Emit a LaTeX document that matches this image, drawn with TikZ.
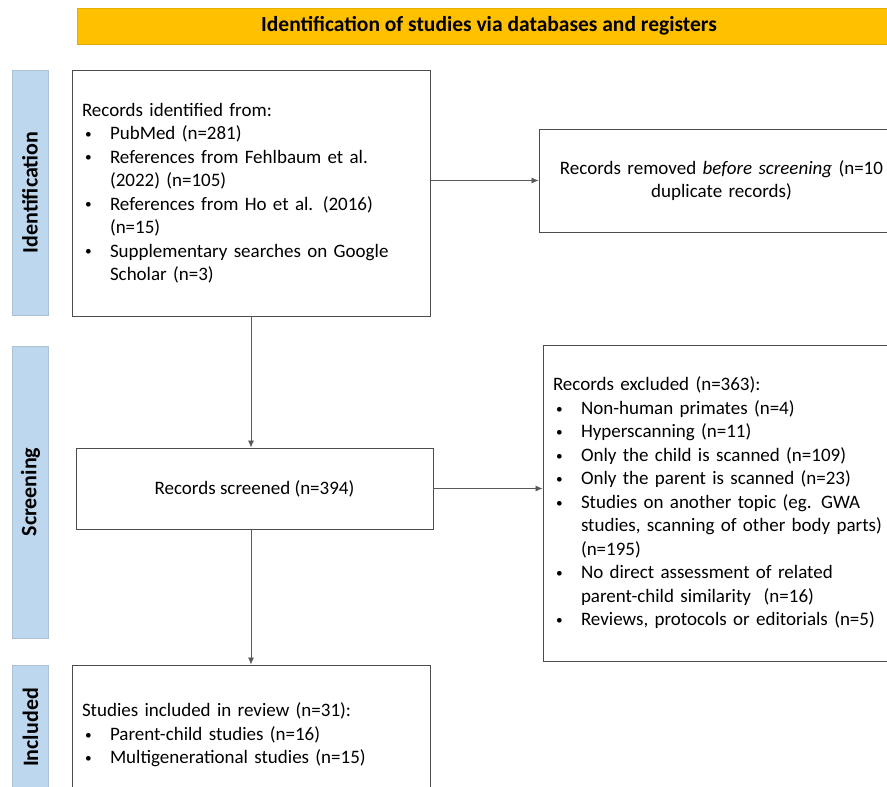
\documentclass[tikz,border=0pt]{standalone}
\usepackage{fontspec}
\setmainfont{Carlito}
\usepackage{graphicx}
\usepackage{tikz}
\usetikzlibrary{arrows.meta}
\definecolor{bannerorange}{HTML}{FFC000}
\definecolor{phaseblue}{HTML}{BDD7EE}
\newcommand{\bitem}{\makebox[28pt][l]{\hspace{3pt}\raisebox{0.12ex}{\scalebox{0.7}{\textbullet}}}}
\newcommand{\bcont}{\hspace*{28pt}}

\begin{document}
\begin{tikzpicture}[x=1pt, y=-1pt, box/.style={rectangle, draw=black!70, line width=0.9pt, fill=white, inner xsep=10pt, inner ysep=0pt, font=\fontsize{19}{23.5}\selectfont}, phase/.style={rectangle, fill=phaseblue, draw=phaseblue!90!black, line width=0.5pt, minimum height=36pt, inner sep=0pt, rotate=90, font=\fontsize{22}{24}\selectfont\bfseries}, banner/.style={rectangle, fill=bannerorange, draw=bannerorange!90!black, line width=0.5pt, minimum width=824pt, minimum height=36pt, font=\fontsize{21.5}{24}\selectfont\bfseries}, arrow/.style={draw=black!65, line width=0.8pt, -{Latex[length=7pt,width=6pt]}}]

    \useasboundingbox (0,0) rectangle (887,787);
    \clip (0,0) rectangle (887,787);

    % Header
    \node[banner] (title) at (489,26) {Identification of studies via databases and registers};

    % Phases
    \node[phase, minimum width=245pt] (phaseid)  at (30,192.5) {Identification};
    \node[phase, minimum width=292pt] (phasescr) at (30.5,492) {Screening};
    \node[phase, minimum width=125pt] (phaseinc) at (30.5,727.5) {Included};

    % Boxes
    \node[box, minimum width=358pt, minimum height=246pt, text width=338pt, align=left] (identified) at (251,193)
        {Records identified from:\\
         \bitem PubMed (n=281)\\
         \bitem References from Fehlbaum et al.\\
         \bcont (2022) (n=105)\\
         \bitem References from Ho et al. (2016)\\
         \bcont (n=15)\\
         \bitem Supplementary searches on Google\\
         \bcont Scholar (n=3)};
    \node[box, minimum width=365pt, minimum height=103pt, text width=345pt, align=center] (removed) at (721.5,180.5)
        {Records removed \textit{before screening} (n=10\\ duplicate records)};
    \node[box, minimum width=357pt, minimum height=81pt] (screened) at (254.5,488.5)
        {Records screened (n=394)};
    \node[box, minimum width=362pt, minimum height=316pt, text width=342pt, align=left] (excluded) at (724,503)
        {Records excluded (n=363):\\
         \bitem Non-human primates (n=4)\\
         \bitem Hyperscanning (n=11)\\
         \bitem Only the child is scanned (n=109)\\
         \bitem Only the parent is scanned (n=23)\\
         \bitem Studies on another topic (eg. GWA\\
         \bcont studies, scanning of other body parts)\\
         \bcont (n=195)\\
         \bitem No direct assessment of related\\
         \bcont parent-child similarity\ \ (n=16)\\
         \bitem Reviews, protocols or editorials (n=5)};
    \node[box, minimum width=358pt, minimum height=140pt, text width=338pt, align=left] (included) at (251,735)
        {Studies included in review (n=31):\\
         \bitem Parent-child studies (n=16)\\
         \bitem Multigenerational studies (n=15)};

    % Lines
    \draw[arrow] (identified.south) -- (identified.south |- screened.north);
    \draw[arrow] (identified.east |- removed.west) -- (removed.west);
    \draw[arrow] (screened.east) -- (excluded.west |- screened.east);
    \draw[arrow] (identified.south |- screened.south) -- (identified.south |- included.north);

\end{tikzpicture}
\end{document}
